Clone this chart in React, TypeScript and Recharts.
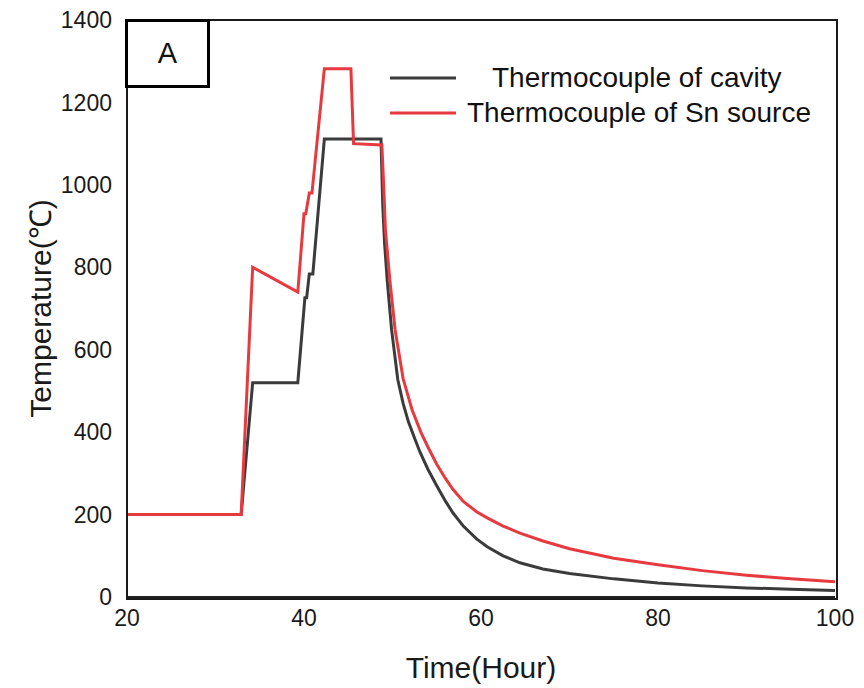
import React from 'react';
import { LineChart, Line, XAxis, YAxis, Legend, Label } from 'recharts';

// thermocouple of cavity
const cavityHours = [20, 32.9, 34.2, 39.3, 40.1, 40.3, 40.6, 41.0, 42.3, 48.7, 48.9, 49.1, 49.4, 49.9, 50.6, 51.2, 51.8, 52.5, 53.1, 54, 55, 56, 56.8, 58, 59.5, 60.7, 62.5, 64.4, 67, 70, 75, 80, 85, 90, 95, 100];
const cavityTemps = [200, 200, 520, 520, 726, 726, 784, 784, 1111, 1111, 950, 860, 769, 648, 527, 470, 425, 385, 352, 310, 270, 232, 205, 172, 141, 122, 100, 83, 68, 57, 44, 34, 27, 22, 19, 16];

// thermocouple of Sn source
const snHours = [20, 32.9, 34.2, 39.3, 40.0, 40.2, 40.6, 40.9, 42.3, 45.3, 45.6, 48.8, 49.0, 49.2, 49.7, 50.3, 51.2, 52.2, 53.2, 54, 55, 56, 56.8, 58, 59.5, 60.7, 62.5, 64.4, 67, 70, 75, 80, 85, 90, 95, 100];
const snTemps = [200, 200, 800, 740, 930, 930, 980, 980, 1282, 1282, 1100, 1097, 1000, 891, 769, 648, 530, 455, 400, 364, 322, 287, 262, 232, 207, 192, 172, 155, 136, 117, 94, 78, 64, 53, 44, 37];

const seriesNames = ['Thermocouple of cavity', 'Thermocouple of Sn source'];
const xTicks = [20, 40, 60, 80, 100];
const yTicks = [0, 200, 400, 600, 800, 1000, 1200, 1400];

const cavityData = cavityHours.map((hour, i) => ({ hour, temp: cavityTemps[i] }));
const snData = snHours.map((hour, i) => ({ hour, temp: snTemps[i] }));

const FONT = '"Liberation Sans", Arial, sans-serif';
const CAVITY_COLOR = '#3b3b3b';
const SN_COLOR = '#e63a3f';
const legendIndent = [34, 9];

function LegendBox({ payload }: any) {
  const items = [...(payload || [])].sort(
    (a: any, b: any) => seriesNames.indexOf(a.value) - seriesNames.indexOf(b.value)
  );
  return (
    <div style={{ fontFamily: FONT, fontSize: 28, color: '#111' }}>
      {items.map((item: any, i: number) => (
        <div key={item.value} style={{ display: 'flex', alignItems: 'center', height: 35, whiteSpace: 'nowrap' }}>
          <svg width={70} height={10}>
            <line x1={2} y1={5} x2={68} y2={5} stroke={item.color} strokeWidth={3} />
          </svg>
          <span style={{ paddingLeft: legendIndent[i] }}>{item.value}</span>
        </div>
      ))}
    </div>
  );
}

export default function App() {
  return (
    <div style={{ position: 'absolute', left: 0, top: 0, width: 864, height: 688, background: '#fff', fontFamily: FONT }}>
      <LineChart width={864} height={688} margin={{ top: 20, right: 29, bottom: 0, left: 0 }}>
        <XAxis
          dataKey="hour"
          type="number"
          domain={[20, 100]}
          ticks={xTicks}
          tickLine={false}
          tickMargin={7}
          allowDataOverflow
          axisLine={{ stroke: '#222', strokeWidth: 2 }}
          tick={{ fontSize: 23, fill: '#1a1a1a', fontFamily: FONT }}
          height={91}
        >
          <Label value="Time(Hour)" position="insideBottom" offset={10} style={{ fontSize: 30, fill: '#1a1a1a', fontFamily: FONT }} />
        </XAxis>
        <YAxis
          dataKey="temp"
          type="number"
          domain={[0, 1400]}
          ticks={yTicks}
          tickLine={false}
          tickMargin={9}
          axisLine={{ stroke: '#222', strokeWidth: 2 }}
          tick={{ fontSize: 23, fill: '#1a1a1a', fontFamily: FONT }}
          width={127}
        >
          <Label value="Temperature(℃)" angle={-90} position="insideLeft" offset={40} style={{ fontSize: 30, fill: '#1a1a1a', fontFamily: FONT, textAnchor: 'middle' }} />
        </YAxis>
        <Legend
          layout="horizontal"
          verticalAlign="middle"
          align="center"
          content={<LegendBox />}
          wrapperStyle={{ position: 'absolute', left: 388, top: 60, width: 450 }}
        />
        <Line
          data={cavityData}
          dataKey="temp"
          name={seriesNames[0]}
          type="linear"
          stroke={CAVITY_COLOR}
          strokeWidth={3}
          dot={false}
          activeDot={false}
          isAnimationActive={false}
        />
        <Line
          data={snData}
          dataKey="temp"
          name={seriesNames[1]}
          type="linear"
          stroke={SN_COLOR}
          strokeWidth={3}
          dot={false}
          activeDot={false}
          isAnimationActive={false}
        />
      </LineChart>
      {/* plot frame */}
      <div style={{ position: 'absolute', left: 126, top: 19, width: 708, height: 577, border: '2px solid #1a1a1a', pointerEvents: 'none' }} />
      {/* panel label */}
      <div
        style={{
          position: 'absolute', left: 125, top: 19, width: 85, height: 69, boxSizing: 'border-box',
          border: '3.5px solid #000', background: '#fff', display: 'flex',
          alignItems: 'center', justifyContent: 'center', fontSize: 29, color: '#111',
        }}
      >
        A
      </div>
    </div>
  );
}
